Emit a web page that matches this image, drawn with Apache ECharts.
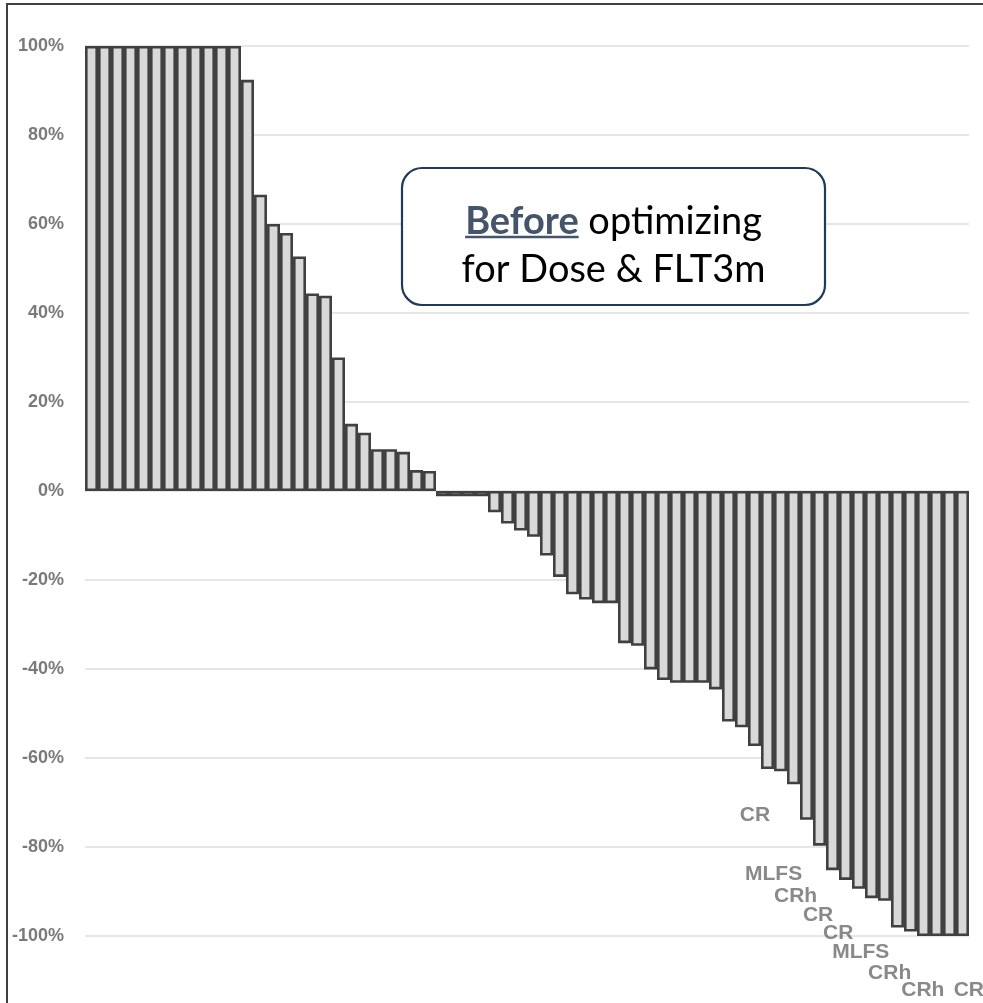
<!DOCTYPE html>
<html>
<head>
<meta charset="utf-8">
<title>Best response by patient</title>
<script src="https://cdn.jsdelivr.net/npm/echarts@6/dist/echarts.min.js"></script>
<style>
  html, body { margin: 0; padding: 0; background: #ffffff; }
  #chart { width: 983px; height: 1003px; }
</style>
</head>
<body>
<div id="chart"></div>
<script>
// Best change from baseline (%) for each patient, sorted high to low
const responses = [
  100, 100, 100, 100, 100, 100, 100, 100, 100, 100, 100, 100,
  92.4, 66.6, 60.0, 58.0, 52.7, 44.4, 43.9, 30.0, 15.1, 13.1,
  9.4, 9.4, 8.8, 4.7, 4.5,
  -1.2, -1.2, -1.2, -1.2,
  -4.8, -7.3, -8.9, -10.3, -14.5, -19.3, -23.2, -24.4, -25.2, -25.2,
  -34.2, -34.8, -40.1, -42.5, -43.1, -43.1, -43.1, -44.6, -51.8, -53.1,
  -57.3, -62.5, -63.0, -65.9, -73.9, -79.7, -85.2, -87.4, -89.4, -91.5,
  -92.1, -98.1, -99.0, -100, -100, -100, -100
];
const patients = responses.map((_, i) => 'Pt ' + (i + 1));

// Y axis ticks
const yTicks = [-100, -80, -60, -40, -20, 0, 20, 40, 60, 80, 100];

// Response category tags and where they sit (bar-slot position, % value)
const tagText = ['CR', 'MLFS', 'CRh', 'CR', 'CR', 'MLFS', 'CRh', 'CRh', 'CR'];
const tagSlot = [51.54, 52.97, 54.66, 56.39, 57.94, 59.67, 61.90, 64.45, 67.99];
const tagValue = [-72.8, -86.2, -91.0, -95.3, -99.3, -103.6, -108.3, -112.1, -112.1];

const chart = echarts.init(document.getElementById('chart'), null, { renderer: 'canvas' });

// Callout box text, sized with the canvas text metrics
const boxFamily = 'Lato, "Open Sans", sans-serif';
const meter = document.createElement('canvas').getContext('2d');
function textWidth(str, weight, size) {
  meter.font = weight + ' ' + size + 'px ' + boxFamily;
  return meter.measureText(str).width;
}
const boxFont = 36 * 304 / textWidth('for Dose & FLT3m', 'normal', 36);
const wBefore = textWidth('Before', 'bold', boxFont);
const wSpace = textWidth(' ', 'normal', boxFont);
const wRest = textWidth('optimizing', 'normal', boxFont);
const boxCx = 613.5;
const line1Left = boxCx - (wBefore + wSpace + wRest) / 2;
const base1 = 234, base2 = 282;
const midShift = 0.32 * boxFont;

const option = {
  animation: false,
  backgroundColor: '#ffffff',
  grid: { left: 85, right: 14, top: 46, bottom: 67, containLabel: false },
  xAxis: [
    {
      type: 'category',
      data: patients,
      axisLine: { show: false },
      axisTick: { show: false },
      axisLabel: { show: false },
      splitLine: { show: false }
    },
    {
      type: 'value',
      min: 0,
      max: responses.length,
      show: false
    }
  ],
  yAxis: {
    type: 'value',
    min: yTicks[0],
    max: yTicks[yTicks.length - 1],
    interval: 20,
    axisLine: { show: false },
    axisTick: { show: false },
    axisLabel: {
      formatter: '{value}%',
      color: '#7a7a7a',
      fontFamily: '"Liberation Sans", Arial, sans-serif',
      fontWeight: 'bold',
      fontSize: 18,
      margin: 21
    },
    splitLine: { lineStyle: { color: '#dedede', width: 1.5 } }
  },
  series: [
    {
      type: 'bar',
      data: responses,
      barCategoryGap: '0%',
      itemStyle: { color: '#d9d9d9', borderColor: '#404040', borderWidth: 2.6 }
    },
    {
      type: 'scatter',
      xAxisIndex: 1,
      clip: false,
      symbolSize: 2,
      itemStyle: { color: 'rgba(0,0,0,0)' },
      data: tagText.map((t, i) => ({ value: [tagSlot[i], tagValue[i]], name: t })),
      label: {
        show: true,
        position: 'inside',
        formatter: p => p.name,
        color: '#6b6b6b',
        fontFamily: '"Liberation Sans", Arial, sans-serif',
        fontWeight: 'bold',
        fontSize: 21
      },
      labelLayout: { hideOverlap: false },
      z: 5
    }
  ],
  graphic: [
    {
      type: 'rect',
      z: 0,
      silent: true,
      shape: { x: 7, y: 4, width: 1000, height: 1010 },
      style: { fill: 'none', stroke: '#404040', lineWidth: 2 }
    },
    {
      type: 'rect',
      z: 50,
      shape: { x: 402, y: 168, width: 423, height: 137, r: 20 },
      style: { fill: '#ffffff', stroke: '#1f3a5a', lineWidth: 2.2 }
    },
    {
      type: 'text',
      z: 51,
      x: line1Left,
      y: base1 - midShift,
      style: {
        text: 'Before',
        fill: '#44546a',
        font: 'bold ' + boxFont + 'px ' + boxFamily,
        align: 'left', textAlign: 'left',
        verticalAlign: 'middle', textVerticalAlign: 'middle'
      }
    },
    {
      type: 'line',
      z: 51,
      shape: { x1: line1Left, y1: base1 + 3, x2: line1Left + wBefore, y2: base1 + 3 },
      style: { stroke: '#44546a', lineWidth: 2.5 }
    },
    {
      type: 'text',
      z: 51,
      x: line1Left + wBefore + wSpace,
      y: base1 - midShift,
      style: {
        text: 'optimizing',
        fill: '#000000',
        font: 'normal ' + boxFont + 'px ' + boxFamily,
        align: 'left', textAlign: 'left',
        verticalAlign: 'middle', textVerticalAlign: 'middle'
      }
    },
    {
      type: 'text',
      z: 51,
      x: boxCx,
      y: base2 - midShift,
      style: {
        text: 'for Dose & FLT3m',
        fill: '#000000',
        font: 'normal ' + boxFont + 'px ' + boxFamily,
        align: 'center', textAlign: 'center',
        verticalAlign: 'middle', textVerticalAlign: 'middle'
      }
    }
  ]
};

chart.setOption(option);
</script>
</body>
</html>
